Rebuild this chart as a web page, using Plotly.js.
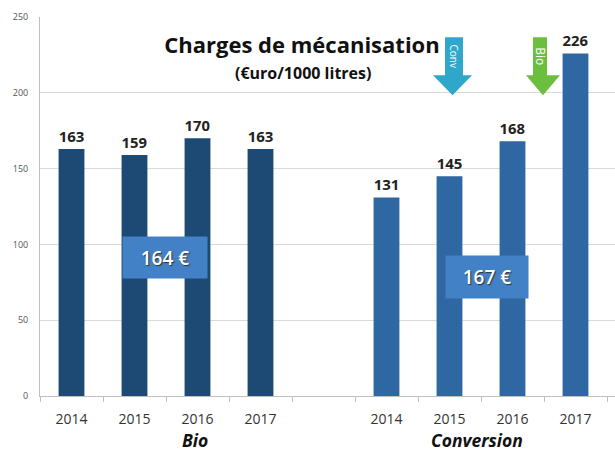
<!DOCTYPE html>
<html>
<head>
<meta charset="utf-8">
<script src="https://cdn.plot.ly/plotly-3.0.1.min.js"></script>
<style>html,body{margin:0;padding:0;background:#fff;}#chart{width:615px;height:452px;}</style>
</head>
<body>
<div id="chart"></div>
<script>
// Data
var categories = ["B2014","B2015","B2016","B2017","gap","C2014","C2015","C2016","C2017"];
var bioCats = ["B2014","B2015","B2016","B2017"];
var convCats = ["C2014","C2015","C2016","C2017"];
var bioValues = [163, 159, 170, 163];
var convValues = [131, 145, 168, 226];
var tickLabels = ["2014","2015","2016","2017","","2014","2015","2016","2017"];
var groupLabels = ["Bio", "Conversion"];
var averageLabels = ["164 €", "167 €"];
var arrowLabels = ["Conv", "Bio"];

var labelFont = {family: "Open Sans, sans-serif", size: 15, color: "#222"};

var traces = [
  {
    type: "bar", x: bioCats, y: bioValues, width: 0.41,
    marker: {color: "#1d4a74"},
    text: bioValues.map(String), texttemplate: "<b>%{text}</b>",
    textposition: "outside", textfont: labelFont, cliponaxis: false,
    hoverinfo: "x+y", showlegend: false
  },
  {
    type: "bar", x: convCats, y: convValues, width: 0.41,
    marker: {color: "#2f67a2"},
    text: convValues.map(String), texttemplate: "<b>%{text}</b>",
    textposition: "outside", textfont: labelFont, cliponaxis: false,
    hoverinfo: "x+y", showlegend: false
  },
  {
    type: "bar", x: ["gap"], y: [null], showlegend: false, hoverinfo: "skip"
  }
];

function arrowPath(x0, x1, hx0, hx1, tip, yTop, yNeck, yTip) {
  return "M" + x0 + "," + yTop + " L" + x1 + "," + yTop + " L" + x1 + "," + yNeck +
         " L" + hx1 + "," + yNeck + " L" + tip + "," + yTip + " L" + hx0 + "," + yNeck +
         " L" + x0 + "," + yNeck + " Z";
}

var layout = {
  width: 615, height: 452,
  margin: {l: 40, r: 0, t: 17, b: 56, pad: 0},
  paper_bgcolor: "#ffffff", plot_bgcolor: "#ffffff",
  bargap: 0.59,
  title: {
    text: "<b>Charges de mécanisation</b>",
    font: {family: "Open Sans, sans-serif", size: 22, color: "#111"},
    x: 302/615, xanchor: "center", xref: "container",
    y: 1 - 45/452, yanchor: "middle", yref: "container"
  },
  xaxis: {
    type: "category", categoryorder: "array", categoryarray: categories,
    tickvals: categories, ticktext: tickLabels,
    range: [-0.5, 8.627],
    tickson: "boundaries", ticks: "outside", ticklen: 5, tickcolor: "#bfbfbf",
    showline: true, linecolor: "#bfbfbf", linewidth: 1,
    showgrid: false, zeroline: false,
    tickfont: {family: "Open Sans, sans-serif", size: 14, color: "#333"},
    ticklabelstandoff: 10,
    fixedrange: true
  },
  yaxis: {
    range: [0, 250], dtick: 50, tick0: 0,
    showgrid: true, gridcolor: "#d9d9d9", gridwidth: 1,
    showline: true, linecolor: "#bfbfbf", linewidth: 1,
    ticks: "", zeroline: false,
    tickfont: {family: "Open Sans, sans-serif", size: 9, color: "#555"},
    ticklabelstandoff: 9,
    fixedrange: true
  },
  shapes: [
    {type: "path", xref: "x", yref: "y", layer: "above",
     path: arrowPath(5.929, 6.214, 5.738, 6.357, 6.048, 236.7, 211.6, 198.4),
     fillcolor: "#2ea7cb", line: {width: 0}},
    {type: "path", xref: "x", yref: "y", layer: "above",
     path: arrowPath(7.325, 7.548, 7.214, 7.754, 7.484, 236.7, 211.6, 198.4),
     fillcolor: "#6cbe3e", line: {width: 0}}
  ],
  annotations: [
    {text: "<b>(€uro/1000 litres)</b>", xref: "paper", yref: "paper",
     x: (303-40)/575, y: (396-73)/379, xanchor: "center", yanchor: "middle",
     showarrow: false, font: {family: "Open Sans, sans-serif", size: 16, color: "#111"}},
    {text: averageLabels[0], xref: "paper", yref: "paper",
     x: (165-40)/575, y: (396-257.5)/379, xanchor: "center", yanchor: "middle",
     showarrow: false, bgcolor: "#4281c6", width: 80, height: 37, borderpad: 2,
     font: {family: "Open Sans, sans-serif", size: 19, color: "#ffffff", weight: 600, shadow: "1px 1px 1px #333"}},
    {text: averageLabels[1], xref: "paper", yref: "paper",
     x: (487-40)/575, y: (396-277)/379, xanchor: "center", yanchor: "middle",
     showarrow: false, bgcolor: "#4281c6", width: 78, height: 38, borderpad: 2,
     font: {family: "Open Sans, sans-serif", size: 19, color: "#ffffff", weight: 600, shadow: "1px 1px 1px #333"}},
    {text: arrowLabels[0], xref: "x", yref: "y", x: 6.07, y: 224,
     xanchor: "center", yanchor: "middle", textangle: 90, showarrow: false,
     font: {family: "Open Sans, sans-serif", size: 10, color: "#ffffff"}},
    {text: arrowLabels[1], xref: "x", yref: "y", x: 7.44, y: 224,
     xanchor: "center", yanchor: "middle", textangle: 90, showarrow: false,
     font: {family: "Open Sans, sans-serif", size: 12, color: "#ffffff"}},
    {text: "<b><i>" + groupLabels[0] + "</i></b>", xref: "paper", yref: "paper",
     x: (195-40)/575, y: (396-440)/379, xanchor: "center", yanchor: "middle",
     showarrow: false, font: {family: "Open Sans, sans-serif", size: 17.5, color: "#111"}},
    {text: "<b><i>" + groupLabels[1] + "</i></b>", xref: "paper", yref: "paper",
     x: (477-40)/575, y: (396-440)/379, xanchor: "center", yanchor: "middle",
     showarrow: false, font: {family: "Open Sans, sans-serif", size: 17.5, color: "#111"}}
  ]
};

Plotly.newPlot("chart", traces, layout, {displayModeBar: false, staticPlot: true});
</script>
</body>
</html>
